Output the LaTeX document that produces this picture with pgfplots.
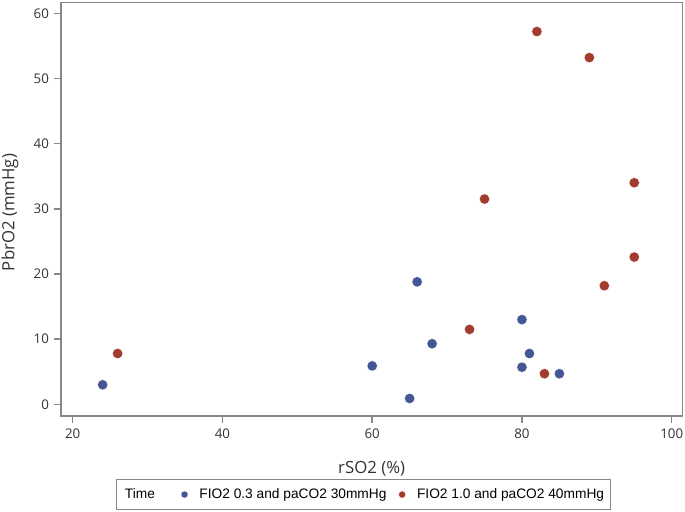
\documentclass[border=0pt]{standalone}
\usepackage{fontspec}
\setmainfont{Open Sans}
\newfontfamily\legfont{Liberation Sans}
\usepackage{pgfplots}
\pgfplotsset{compat=1.18}
\usetikzlibrary{calc}
\definecolor{sblue}{HTML}{445694}
\definecolor{sred}{HTML}{A23A2E}
\definecolor{frame}{HTML}{888888}
\definecolor{txt}{HTML}{333333}
\begin{document}
\begin{tikzpicture}
\begin{axis}[
  name=ax,
  scale only axis,
  width=465.9pt, height=310.3pt,
  xmin=18.44, xmax=101.42,
  ymin=-1.8, ymax=61.69,
  xtick={20,40,60,80,100},
  ytick={0,10,20,30,40,50,60},
  axis line style={frame, line width=1.1pt},
  tick style={frame, line width=1.1pt},
  tick align=outside,
  major tick length=5pt,
  xtick pos=bottom, ytick pos=left,
  /pgf/number format/assume math mode=true,
  tick label style={font=\fontsize{10}{12}\selectfont, text=txt},
  xticklabel style={yshift=-1pt},
  yticklabel style={xshift=-0.5pt},
  label style={font=\fontsize{12.6}{15}\selectfont, text=txt},
  xlabel={rSO2 (\%)},
  ylabel={PbrO2 (mmHg)},
  xlabel style={at={(axis description cs:0.5,-0.128)}, anchor=center},
  ylabel style={at={(axis description cs:-0.082,0.492)}, anchor=center, rotate=0},
  clip=false,
  legend columns=-1,
  legend image post style={mark size=2.7pt},
  legend style={at={(axis description cs:0.4863,-0.1896)}, anchor=center,
    draw=frame, line width=0.8pt, font=\legfont\fontsize{10.3}{12}\selectfont,
    inner xsep=2.5pt, inner ysep=4.5pt,
    /tikz/every even column/.append style={column sep=7pt},
    /tikz/every odd column/.append style={column sep=6.5pt}},
  legend cell align=left,
]
\addlegendimage{empty legend}
\addlegendentry{\hspace*{-4.5pt}Time\rule{10.5pt}{0pt}}
\addplot[only marks, mark=*, mark size=3.9pt, color=sblue, mark options={fill=sblue, draw=white, line width=0.3pt}] coordinates {
(24,3.0) (60,5.9) (65,0.9) (66,18.8) (68,9.3) (80,13.0) (81,7.8) (80,5.7) (85,4.7)
};
\addlegendentry{FIO2 0.3 and paCO2 30mmHg}
\addplot[only marks, mark=*, mark size=3.9pt, color=sred, mark options={fill=sred, draw=white, line width=0.3pt}] coordinates {
(26,7.8) (73,11.5) (75,31.5) (82,57.2) (83,4.7) (89,53.2) (91,18.2) (95,22.6) (95,34.0)
};
\addlegendentry{FIO2 1.0 and paCO2 40mmHg}
\end{axis}
\pgfresetboundingbox
\path ($(ax.south west)+(-45.75pt,-71.25pt)$) rectangle ($(ax.north east)+(2pt,1.7pt)$);
\end{tikzpicture}
\end{document}
